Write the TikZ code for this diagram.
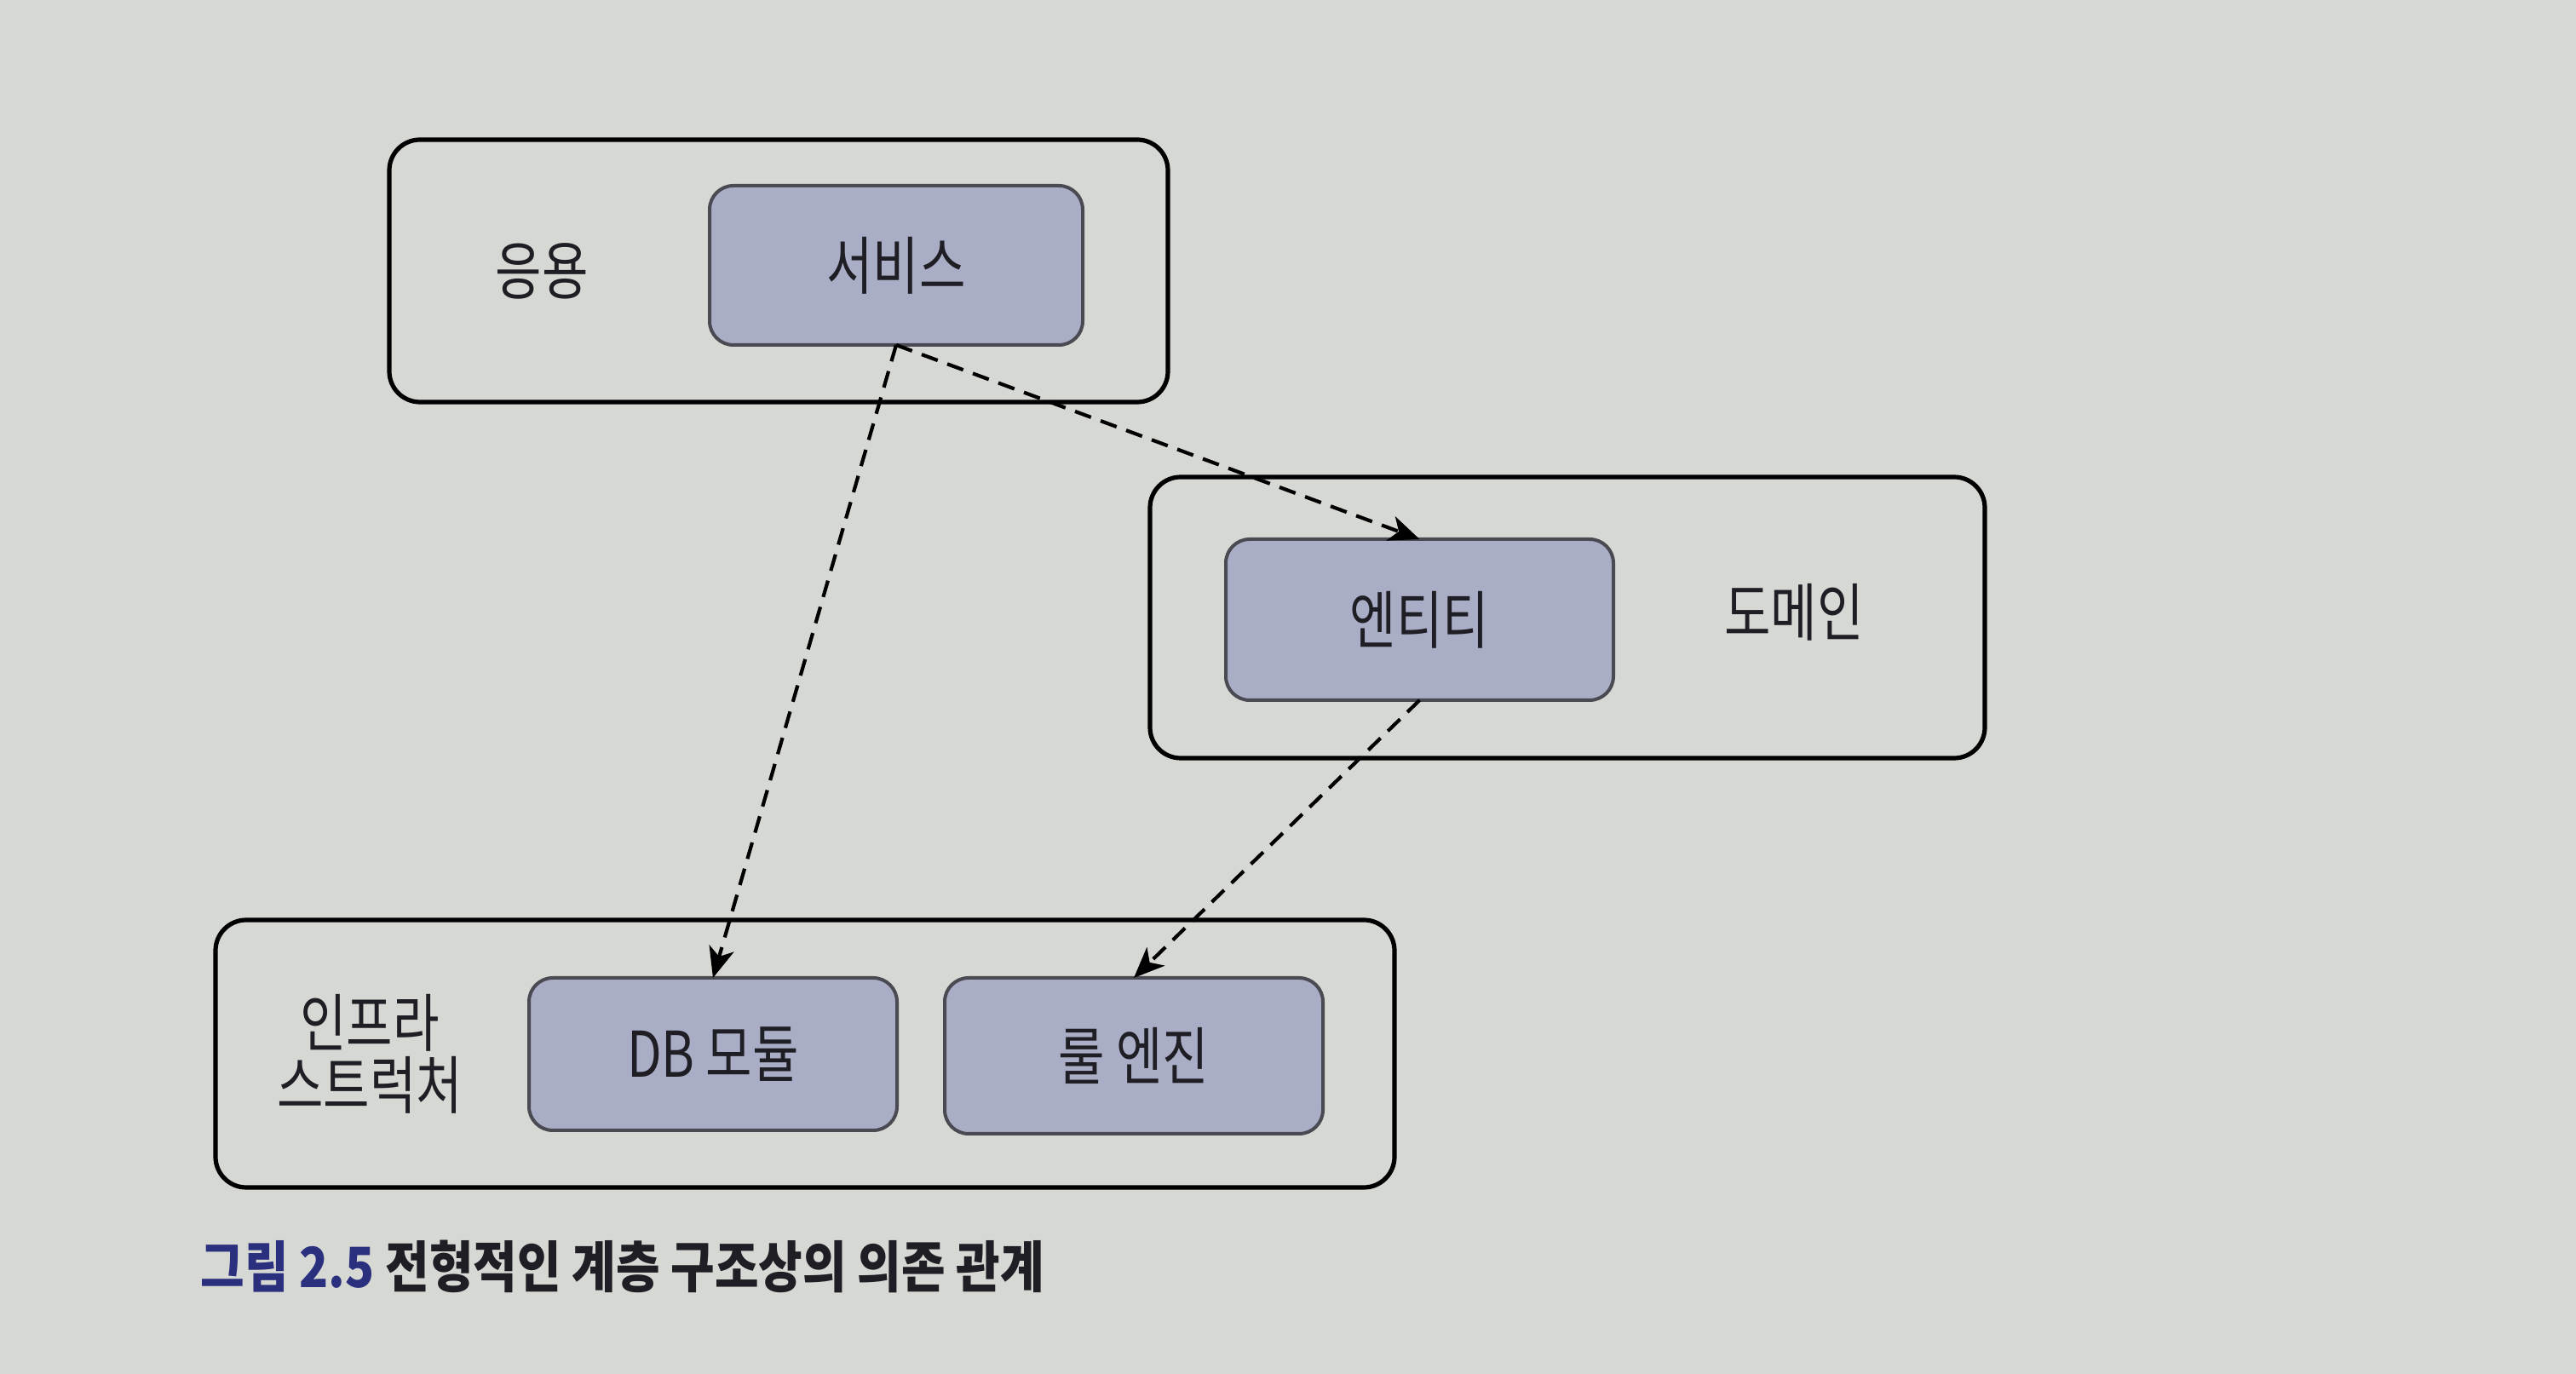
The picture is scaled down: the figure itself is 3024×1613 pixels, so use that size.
\documentclass[tikz,border=0pt]{standalone}
\usepackage{fontspec}
\newfontfamily\kr[FakeStretch=0.8]{Noto Sans CJK KR}
\newfontfamily\krcap[FakeStretch=0.86]{Noto Sans CJK KR}
\usetikzlibrary{arrows.meta}
\definecolor{pagebg}{HTML}{D6D8D3}
\definecolor{boxfill}{HTML}{A9ADC6}
\definecolor{boxline}{HTML}{4A4A52}
\definecolor{txt}{HTML}{1E1E24}
\definecolor{capblue}{HTML}{2A2F7E}
\tikzset{
  layer/.style={draw=black, line width=1.3pt, rounded corners=9pt, inner sep=0pt, outer sep=0pt},
  comp/.style={draw=boxline, fill=boxfill, line width=1pt, rounded corners=7pt, inner sep=0pt, outer sep=0pt, text=txt, font=\kr\fontsize{18.5}{22}\selectfont},
  lbl/.style={text=txt, font=\kr\fontsize{18.5}{18.25}\selectfont, inner sep=0pt, align=center},
  dep/.style={draw=black, line width=1.05pt, dash pattern=on 5pt off 3pt, -{Stealth[length=9pt,width=7.5pt,inset=2.5pt]}}
}
\begin{document}
\begin{tikzpicture}[x=0.25pt,y=-0.25pt]
\fill[pagebg] (0,0) rectangle (3024,1613);
\useasboundingbox (0,0) rectangle (3024,1613);
% layers
\node[layer, minimum width=228.5pt, minimum height=77pt] (app) at (914,318) {};
\node[layer, minimum width=245pt, minimum height=82.5pt] (dom) at (1840,725) {};
\node[layer, minimum width=346pt, minimum height=78.5pt] (infra) at (945,1237) {};
% components
\node[comp, minimum width=109.5pt, minimum height=46.75pt] (svc) at (1052,311.5) {서비스};
\node[comp, minimum width=113.75pt, minimum height=47.25pt] (ent) at (1666.5,727.5) {엔티티};
\node[comp, minimum width=108pt, minimum height=44.75pt] (db) at (837,1237.5) {DB 모듈};
\node[comp, minimum width=111pt, minimum height=45.75pt] (rule) at (1331,1239.5) {룰 엔진};
% layer labels
\node[lbl] (applbl) at (636,318) {응용};
\node[lbl] (domlbl) at (2106,719) {도메인};
\node[lbl] (infralbl) at (434,1237) {인프라\\스트럭처};
% dependencies
\draw[dep] (svc.south) -- (db.north);
\draw[dep] (svc.south) -- (ent.north);
\draw[dep] (ent.south) -- (rule.north);
% caption
\node[anchor=west, inner sep=0pt, font=\krcap\bfseries\fontsize{16.3}{18}\selectfont, text=txt] (cap) at (235,1487) {\textcolor{capblue}{그림 2.5} 전형적인 계층 구조상의 의존 관계};
\end{tikzpicture}
\end{document}
